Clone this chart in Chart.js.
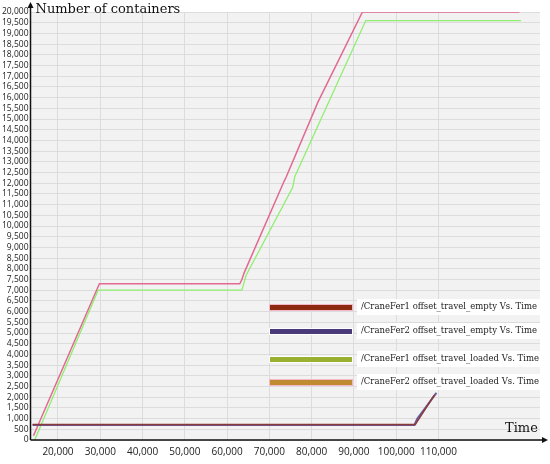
<!DOCTYPE html>
<html><head><script src="https://cdn.jsdelivr.net/npm/chart.js@4"></script>
<style>body{margin:0;background:#fff}#w{width:550px;height:464px}</style></head>
<body><div id="w"><canvas id="c"></canvas></div>
<script>
const xTicks=[20000,30000,40000,50000,60000,70000,80000,90000,100000,110000];
const fer1EmptyX=[14000,104500,109000];
const fer1EmptyY=[720,720,2100];
const fer2EmptyX=[14000,104300,105000,106500,109500];
const fer2EmptyY=[700,700,1000,1400,2200];
const fer1LoadedX=[14500,29500,63500,64500,75500,76000,92800,129500];
const fer1LoadedY=[0,7000,7000,7700,11800,12300,19600,19600];
const fer2LoadedX=[14200,29800,63000,63500,64000,73500,74000,81500,82000,92000,129000,129800];
const fer2LoadedY=[200,7300,7300,7500,7800,12100,12300,15800,16000,20000,20000,20300];
const legendNames=["/CraneFer1 offset_travel_empty Vs. Time","/CraneFer2 offset_travel_empty Vs. Time","/CraneFer1 offset_travel_loaded Vs. Time","/CraneFer2 offset_travel_loaded Vs. Time"];
const legendColors=["#8b2a10","#4a3a7a","#9ab030","#c08a30"];
const pts=(xs,ys)=>xs.map((x,i)=>({x,y:ys[i]}));
const bg={id:'bg',beforeDraw(ch){const a=ch.chartArea,c=ch.ctx;c.save();c.fillStyle='#f2f2f2';c.fillRect(a.left,a.top,a.right-a.left,a.bottom-a.top);c.restore();},
afterDraw(ch){const a=ch.chartArea,c=ch.ctx;c.save();
c.strokeStyle='#111';c.fillStyle='#111';c.lineWidth=1.5;
c.beginPath();c.moveTo(a.left,a.bottom);c.lineTo(a.left,a.top-8);c.stroke();
c.beginPath();c.moveTo(a.left-3,a.top-4);c.lineTo(a.left,a.top-10);c.lineTo(a.left+3,a.top-4);c.fill();
c.beginPath();c.moveTo(a.left,a.bottom);c.lineTo(a.right+6,a.bottom);c.stroke();
c.beginPath();c.moveTo(a.right+2,a.bottom-3);c.lineTo(a.right+8,a.bottom);c.lineTo(a.right+2,a.bottom+3);c.fill();
c.font='13px "DejaVu Serif"';c.textBaseline='middle';
c.fillText('Number of containers',a.left+5,a.top-2);
c.fillText('Time',a.right-35,a.bottom-11);
const ys=[307,331,359,382];
c.font='8.5px "DejaVu Serif"';
ys.forEach((y,i)=>{c.fillStyle='#fff';c.fillRect(357,y-8,190,16);
c.fillStyle=(i==0||i==3)?'#f5b8c8':'#fff';c.fillRect(269,y-3,84,7);
c.fillStyle=legendColors[i];c.fillRect(270,y-2,82,5);
c.fillStyle='#222';c.fillText(legendNames[i],361,y);});
c.restore();}};
const ds=(d,col,w)=>({data:d,borderColor:col,borderWidth:w,pointRadius:0,fill:false,tension:0});
new Chart(document.getElementById('c'),{type:'line',
data:{datasets:[ds(pts(fer1EmptyX,fer1EmptyY),'#8b3a3a',1.5),ds(pts(fer2EmptyX,fer2EmptyY),'#6a5a9a',2),ds(pts(fer1LoadedX,fer1LoadedY),'#90ee70',1.3),ds(pts(fer2LoadedX,fer2LoadedY),'#e06a90',1.5)]},
plugins:[bg],
options:{responsive:true,maintainAspectRatio:false,animation:false,
layout:{padding:{top:12,right:10,left:0,bottom:0}},
plugins:{legend:{display:false},tooltip:{enabled:false}},
scales:{x:{type:'linear',min:13500,max:134000,afterBuildTicks(s){s.ticks=xTicks.map(v=>({value:v}));},
grid:{color:'#dcdcdc',drawTicks:false},border:{display:false},
ticks:{padding:6,color:'#222',font:{family:'"Open Sans"',size:10},callback:v=>v.toLocaleString('en-US'),maxRotation:0}},
y:{min:0,max:20000,ticks:{stepSize:500,autoSkip:false,padding:2,color:'#222',font:{family:'"Open Sans"',size:8.5},callback:v=>v.toLocaleString('en-US')},
grid:{color:'#dcdcdc',drawTicks:false},border:{display:false}}}}});
</script></body></html>
